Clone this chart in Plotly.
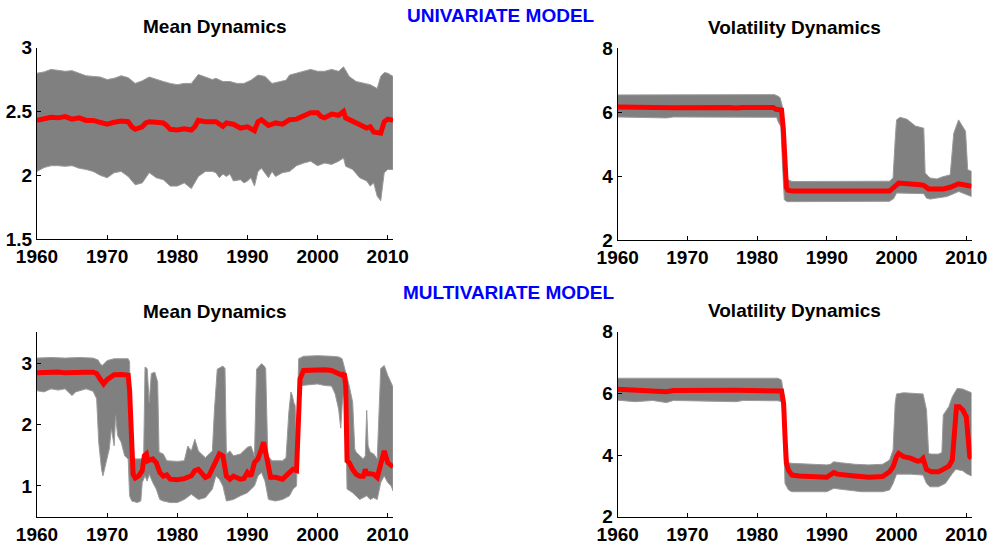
import plotly.graph_objects as go

# ---------------- Univariate model: mean dynamics ----------------
uni_mean_mid_t = [1960, 1961, 1962, 1963, 1964, 1965, 1966, 1967, 1968, 1969, 1970, 1971, 1972, 1973,
                  1973.5, 1974, 1975, 1975.5, 1976, 1977, 1978, 1978.5, 1979, 1980, 1981, 1982, 1982.5,
                  1983, 1984, 1985, 1985.5, 1986.5, 1987, 1988, 1989, 1990, 1991, 1991.5, 1992, 1993,
                  1994, 1995, 1996, 1997, 1998, 1999, 2000, 2000.5, 2001, 2002, 2003, 2003.7, 2004,
                  2005, 2006, 2007, 2007.5, 2008, 2009, 2009.5, 2010, 2010.75]
uni_mean_mid_v = [2.43, 2.44, 2.455, 2.45, 2.46, 2.44, 2.45, 2.43, 2.43, 2.415, 2.40, 2.415, 2.425, 2.42,
                  2.38, 2.36, 2.38, 2.41, 2.42, 2.415, 2.41, 2.39, 2.36, 2.355, 2.365, 2.355, 2.38,
                  2.43, 2.42, 2.42, 2.42, 2.383, 2.41, 2.40, 2.37, 2.38, 2.35, 2.42, 2.435, 2.39,
                  2.41, 2.40, 2.435, 2.44, 2.46, 2.49, 2.49, 2.46, 2.45, 2.48, 2.47, 2.50, 2.45,
                  2.42, 2.40, 2.37, 2.38, 2.34, 2.33, 2.42, 2.44, 2.43]

uni_mean_hi_t = [1960, 1961, 1962, 1963, 1964, 1965, 1966, 1967, 1968, 1969, 1970, 1971, 1972, 1973,
                 1974, 1975, 1976, 1977, 1978, 1979, 1980, 1981, 1982, 1983, 1984, 1985, 1985.5,
                 1986.5, 1987.5, 1988.5, 1989.5, 1990.5, 1991.5, 1992.5, 1993.5, 1994.5, 1995.5, 1996,
                 1997, 1998, 1999, 2000, 2001, 2002, 2003, 2003.7, 2004.5, 2005.5, 2006.5, 2007.5,
                 2008.5, 2009, 2009.5, 2010, 2010.75]
uni_mean_hi_v = [2.80, 2.81, 2.83, 2.82, 2.815, 2.82, 2.80, 2.78, 2.775, 2.77, 2.75, 2.76, 2.78, 2.765,
                 2.72, 2.74, 2.77, 2.75, 2.735, 2.72, 2.71, 2.72, 2.72, 2.79, 2.77, 2.75, 2.76,
                 2.735, 2.735, 2.72, 2.72, 2.745, 2.785, 2.775, 2.72, 2.735, 2.745, 2.785,
                 2.80, 2.81, 2.83, 2.815, 2.815, 2.83, 2.815, 2.85, 2.775, 2.735, 2.72, 2.71,
                 2.68, 2.775, 2.805, 2.80, 2.775]

uni_mean_lo_t = [1960, 1961, 1962, 1963, 1964, 1965, 1966, 1967, 1968, 1969, 1970, 1971, 1972, 1973,
                 1974, 1975, 1976, 1977, 1978, 1979, 1980, 1981, 1982, 1983, 1984, 1985, 1985.5, 1986,
                 1986.5, 1987, 1987.5, 1988, 1989, 1989.5, 1990, 1990.5, 1991, 1991.5, 1992, 1993,
                 1993.5, 1994, 1995, 1996, 1997, 1998, 1999, 2000, 2001, 2002, 2003, 2003.7, 2004,
                 2005, 2006, 2007, 2007.5, 2008, 2008.5, 2009, 2009.5, 2010, 2010.75]
uni_mean_lo_v = [2.03, 2.06, 2.075, 2.075, 2.07, 2.075, 2.055, 2.045, 2.03, 2.00, 1.98, 2.02, 2.03, 1.99,
                 1.925, 1.94, 2.02, 1.98, 1.965, 1.915, 1.915, 1.94, 1.895, 1.99, 2.03, 2.03, 2.02, 1.98,
                 2.01, 1.99, 2.01, 1.955, 1.965, 1.94, 1.955, 1.98, 1.915, 2.03, 2.055, 1.98,
                 2.03, 1.99, 2.02, 2.03, 2.075, 2.095, 2.11, 2.075, 2.095, 2.085, 2.11, 2.135, 2.07,
                 2.045, 1.98, 1.955, 1.915, 1.94, 1.835, 1.80, 2.02, 2.045, 2.045]

# ---------------- Univariate model: volatility dynamics ----------------
uni_vol_mid_t = [1960, 1964, 1967, 1968, 1976, 1977, 1978, 1982.3, 1982.7, 1983.5, 1983.75, 1984.0,
                 1984.2, 1984.4, 1985, 1999, 1999.6, 2000.3, 2003.4, 2003.9, 2004.6, 2006.7, 2007.7,
                 2008.9, 2010.75]
uni_vol_mid_v = [6.16, 6.15, 6.12, 6.14, 6.15, 6.13, 6.15, 6.15, 6.09, 6.07, 5.5, 4.4,
                 3.65, 3.56, 3.53, 3.53, 3.66, 3.78, 3.73, 3.71, 3.60, 3.60, 3.65,
                 3.76, 3.68]

uni_vol_hi_t = [1960, 1982.5, 1983.0, 1983.3, 1983.6, 1984.0, 1984.3, 1985, 1999, 1999.5, 1999.8,
                2000, 2000.5, 2001.5, 2002.7, 2003.9, 2004.1, 2004.8, 2005.8, 2006.5, 2007.7, 2008.2,
                2008.9, 2009.9, 2010.2, 2010.75]
uni_vol_hi_v = [6.54, 6.55, 6.5, 6.45, 6.2, 4.5, 3.9, 3.83, 3.84, 3.95, 5.14,
                5.76, 5.84, 5.78, 5.57, 5.5, 4.1, 3.94, 3.91, 3.97, 4.04, 5.34,
                5.76, 5.4, 4.2, 4.15]

uni_vol_lo_t = [1960, 1967, 1968, 1982.8, 1983.0, 1983.4, 1983.7, 1983.9, 1984.3, 1999, 1999.6, 2000,
                2003.9, 2004.3, 2004.8, 2007.2, 2008.2, 2008.9, 2010.75]
uni_vol_lo_v = [5.85, 5.82, 5.85, 5.84, 5.71, 5.55, 4.1, 3.26, 3.2, 3.21, 3.3, 3.47,
                3.45, 3.31, 3.28, 3.36, 3.45, 3.52, 3.36]

# ---------------- Multivariate model: mean dynamics ----------------
multi_mean_mid_t = [1960, 1961, 1962, 1963, 1964, 1965, 1966, 1967, 1968, 1968.5, 1969, 1969.5, 1970,
                    1970.5, 1971, 1972, 1973, 1973.2, 1973.5, 1973.7, 1974, 1974.5, 1975, 1975.3,
                    1975.6, 1975.8, 1976.5, 1977, 1977.5, 1978, 1978.5, 1979, 1980, 1981, 1982,
                    1982.5, 1983, 1983.5, 1984, 1984.5, 1985, 1985.5, 1986, 1986.5, 1987, 1987.5,
                    1988, 1989, 1989.5, 1990, 1990.5, 1991, 1991.5, 1992, 1992.3, 1992.7, 1993,
                    1993.3, 1994, 1995, 1996, 1996.5, 1997, 1997.2, 1997.5, 1998, 1999, 2000, 2001,
                    2002, 2003, 2003.5, 2003.8, 2004, 2004.2, 2004.5, 2005, 2005.5, 2006, 2006.5,
                    2006.8, 2007, 2007.5, 2008, 2008.5, 2009, 2009.5, 2010, 2010.5, 2010.75]
multi_mean_mid_v = [2.84, 2.845, 2.86, 2.855, 2.84, 2.85, 2.86, 2.85, 2.85, 2.83, 2.74, 2.66, 2.73,
                    2.78, 2.81, 2.815, 2.80, 2.55, 1.57, 1.19, 1.13, 1.165, 1.25, 1.49,
                    1.52, 1.41, 1.44, 1.38, 1.22, 1.16, 1.18, 1.11, 1.10, 1.12, 1.165,
                    1.25, 1.27, 1.19, 1.14, 1.165, 1.27, 1.38, 1.52, 1.49, 1.16, 1.11,
                    1.16, 1.11, 1.12, 1.22, 1.16, 1.38, 1.44, 1.60, 1.71, 1.49, 1.27,
                    1.14, 1.14, 1.11, 1.22, 1.27, 1.25, 1.82, 2.74, 2.88, 2.89, 2.90, 2.89,
                    2.88, 2.83, 2.80, 2.83, 2.64, 1.41, 1.38, 1.27, 1.19, 1.16, 1.16,
                    1.27, 1.20, 1.20, 1.19, 1.14, 1.38, 1.57, 1.38, 1.33, 1.31]

multi_mean_hi_t = [1960, 1962, 1964, 1966, 1968, 1968.7, 1969, 1969.3, 1970, 1971, 1972, 1973, 1973.2,
                   1973.4, 1975.2, 1975.4, 1975.7, 1976, 1976.3, 1976.8, 1977.2, 1977.4, 1978, 1978.5,
                   1980, 1981, 1981.5, 1982, 1982.5, 1983, 1984, 1985, 1985.3, 1985.7, 1986.5, 1986.8,
                   1987, 1987.5, 1988, 1989, 1990, 1990.5, 1991, 1991.3, 1992, 1992.4, 1992.6, 1992.9,
                   1993.5, 1995, 1995.5, 1995.9, 1996.2, 1996.4, 1996.6, 1996.8, 1997, 1997.3, 1998,
                   2000, 2002, 2003, 2003.5, 2004, 2004.5, 2005, 2005.3, 2005.5, 2006, 2006.5, 2006.8,
                   2007, 2007.2, 2007.5, 2008, 2008.5, 2009, 2009.5, 2010, 2010.5, 2010.75]
multi_mean_hi_v = [3.08, 3.09, 3.08, 3.09, 3.08, 3.05, 2.99, 2.96, 3.04, 3.07, 3.07, 3.07, 3.02,
                   1.44, 1.44, 2.935, 2.91, 2.36, 2.83, 2.85, 2.69, 1.55, 1.52, 1.41,
                   1.40, 1.41, 1.65, 1.57, 1.76, 1.57, 1.46, 1.57, 2.25, 2.90, 2.95, 2.91,
                   1.52, 1.57, 1.49, 1.52, 1.63, 1.65, 1.49, 2.90, 2.99, 2.95, 2.91, 1.49,
                   1.41, 1.41, 1.46, 2.20, 2.53, 2.47, 2.36, 2.31, 1.655, 3.07, 3.11,
                   3.12, 3.11, 3.10, 3.07, 2.85, 2.635, 2.36, 1.60, 1.55, 1.49, 1.44, 1.49,
                   2.23, 1.655, 1.55, 1.52, 1.44, 2.91, 2.96, 2.80, 2.69, 2.61]

multi_mean_lo_t = [1960, 1961, 1962, 1963, 1964, 1964.5, 1965, 1965.5, 1966, 1967, 1968, 1968.5, 1968.8,
                   1969.2, 1969.4, 1969.8, 1970.3, 1970.6, 1971, 1971.2, 1971.5, 1972, 1972.5, 1973,
                   1973.2, 1973.5, 1974.3, 1974.8, 1975, 1975.4, 1975.7, 1976, 1976.5, 1977, 1977.5,
                   1978, 1979, 1980, 1981, 1982, 1983, 1984, 1985, 1985.5, 1986, 1986.5, 1987, 1988,
                   1989, 1990, 1990.5, 1991, 1991.5, 1992, 1992.5, 1993, 1994, 1995, 1996, 1996.5,
                   1997, 1997.3, 1997.7, 1998, 2000, 2001, 2002, 2002.5, 2003, 2003.3, 2003.5, 2003.8,
                   2004, 2004.2, 2005, 2006, 2007, 2007.5, 2008, 2008.5, 2009, 2009.5, 2010, 2010.5,
                   2010.75]
multi_mean_lo_v = [2.55, 2.53, 2.58, 2.56, 2.58, 2.53, 2.47, 2.53, 2.54, 2.58, 2.54, 2.42, 1.71,
                   1.27, 1.165, 1.38, 1.60, 1.93, 1.655, 2.145, 1.82, 1.71, 1.49, 1.44,
                   0.84, 0.755, 0.73, 0.755, 1.055, 1.165, 1.08, 1.19, 1.055, 0.95, 0.78,
                   0.755, 0.73, 0.73, 0.78, 0.865, 0.78, 0.81, 0.95, 1.165, 1.11, 1.0, 0.755, 0.78,
                   0.84, 0.89, 0.95, 1.0, 1.165, 1.22, 1.08, 0.78, 0.755, 0.78, 0.84, 0.95,
                   1.0, 2.36, 2.635, 2.645, 2.66, 2.635, 2.625, 2.50, 2.25, 1.94, 2.31, 2.635,
                   2.145, 0.95, 0.89, 0.78, 0.84, 0.78, 0.81, 0.78, 1.055, 1.165, 1.055, 1.0,
                   0.92]

# ---------------- Multivariate model: volatility dynamics ----------------
multi_vol_mid_t = [1960, 1963, 1965, 1967, 1968, 1970, 1977, 1983.5, 1983.8, 1984, 1984.2, 1984.5,
                   1985, 1986, 1988, 1990, 1990.5, 1991, 1991.5, 1992, 1994, 1996, 1998, 1999, 1999.5,
                   2000, 2000.3, 2001, 2002, 2003, 2003.5, 2003.8, 2004, 2004.3, 2005, 2006, 2006.5,
                   2007, 2007.5, 2008, 2008.3, 2008.6, 2009, 2009.5, 2010, 2010.3, 2010.5, 2010.75]
multi_vol_mid_v = [6.13, 6.09, 6.10, 6.055, 6.09, 6.10, 6.10, 6.08, 5.68, 4.6, 3.73, 3.51,
                   3.35, 3.32, 3.29, 3.28, 3.36, 3.43, 3.38, 3.36, 3.32, 3.28, 3.30, 3.46, 3.62,
                   3.95, 4.05, 3.95, 3.90, 3.80, 3.82, 3.89, 3.68, 3.53, 3.46, 3.46, 3.51,
                   3.57, 3.64, 3.84, 4.70, 5.57, 5.57, 5.46, 5.24, 4.6, 3.95, 3.89]

multi_vol_hi_t = [1960, 1970, 1983, 1983.5, 1984, 1984.2, 1984.5, 1985, 1990, 1990.5, 1991, 1992,
                  1994, 1996, 1998, 1999, 1999.5, 1999.8, 2000, 2001, 2002, 2003, 2003.8, 2004.3,
                  2004.6, 2005, 2006, 2006.5, 2006.7, 2007.5, 2008, 2008.7, 2009.5, 2010, 2010.75]
multi_vol_hi_v = [6.49, 6.49, 6.49, 6.43, 5.68, 4.05, 3.75, 3.73, 3.68, 3.70, 3.78, 3.75,
                  3.70, 3.68, 3.70, 3.84, 4.16, 5.68, 5.98, 6.02, 6.00, 5.98, 5.98, 5.46,
                  4.05, 4.03, 4.03, 4.08, 5.30, 5.57, 5.89, 6.16, 6.14, 6.09, 6.02]

multi_vol_lo_t = [1960, 1962.5, 1965, 1967, 1968, 1977, 1978, 1983, 1983.5, 1983.7, 1984, 1984.5, 1985,
                  1990, 1991, 1992, 1995, 1998, 1999, 1999.5, 2000, 2002, 2003.8, 2004.3, 2004.8,
                  2006, 2007, 2008, 2008.5, 2009.5, 2010, 2010.75]
multi_vol_lo_v = [5.78, 5.73, 5.77, 5.70, 5.77, 5.73, 5.77, 5.76, 5.73, 5.35, 3.08, 2.865, 2.81,
                  2.81, 2.92, 2.89, 2.81, 2.81, 2.865, 3.08, 3.38, 3.38, 3.35, 3.08, 2.97,
                  2.97, 3.08, 3.40, 3.535, 3.49, 3.40, 3.32]

# ---------------- Axis ticks ----------------
year_ticks = [1960, 1970, 1980, 1990, 2000, 2010]
uni_mean_yticks = [1.5, 2, 2.5, 3]
vol_yticks = [2, 4, 6, 8]
multi_mean_yticks = [1, 2, 3]

W, H = 989, 544
FONT = "Liberation Sans, Arial, Helvetica, sans-serif"

panels = [
    # (axis suffix, x px range, y px range (top, bottom), y range, y ticks, title, data)
    ("", (37, 393), (47.7, 239.0), [1.5, 3], uni_mean_yticks, "Mean Dynamics",
     (uni_mean_hi_t, uni_mean_hi_v, uni_mean_lo_t, uni_mean_lo_v, uni_mean_mid_t, uni_mean_mid_v)),
    ("2", (617.7, 971.5), (48.3, 240.0), [2, 8], vol_yticks, "Volatility Dynamics",
     (uni_vol_hi_t, uni_vol_hi_v, uni_vol_lo_t, uni_vol_lo_v, uni_vol_mid_t, uni_vol_mid_v)),
    ("3", (37, 393), (332.3, 516.7), [0.5, 3.5], multi_mean_yticks, "Mean Dynamics",
     (multi_mean_hi_t, multi_mean_hi_v, multi_mean_lo_t, multi_mean_lo_v, multi_mean_mid_t, multi_mean_mid_v)),
    ("4", (617.7, 971.5), (331.7, 516.7), [2, 8], vol_yticks, "Volatility Dynamics",
     (multi_vol_hi_t, multi_vol_hi_v, multi_vol_lo_t, multi_vol_lo_v, multi_vol_mid_t, multi_vol_mid_v)),
]

fig = go.Figure()
layout = dict(
    width=W, height=H, margin=dict(l=0, r=0, t=0, b=0, pad=0), autosize=False,
    paper_bgcolor="white", plot_bgcolor="white", showlegend=False,
    annotations=[],
)

tick_font = dict(family=FONT, size=19, color="black", weight="bold")

for suffix, (x0, x1), (ytop, ybot), yrange, yticks, title, data in panels:
    hi_t, hi_v, lo_t, lo_v, mid_t, mid_v = data
    xa = "x" + suffix
    ya = "y" + suffix
    # credible band as a closed polygon
    fig.add_trace(go.Scatter(
        x=hi_t + lo_t[::-1], y=hi_v + lo_v[::-1],
        fill="toself", fillcolor="#808080", mode="lines",
        line=dict(color="#9a9a9a", width=1), hoverinfo="skip",
        xaxis=xa, yaxis=ya))
    # posterior median
    fig.add_trace(go.Scatter(
        x=mid_t, y=mid_v, mode="lines",
        line=dict(color="#ff0000", width=5),
        xaxis=xa, yaxis=ya))

    common = dict(showline=True, linecolor="black", linewidth=1, ticks="inside",
                  ticklen=4, tickwidth=1, tickcolor="black", showgrid=False,
                  zeroline=False, tickfont=tick_font, automargin=False)
    layout["xaxis" + suffix] = dict(
        domain=[x0 / W, x1 / W], range=[1960, 2010.75], tickvals=year_ticks,
        ticktext=[str(y) for y in year_ticks], anchor=ya, **common)
    layout["yaxis" + suffix] = dict(
        domain=[1 - ybot / H, 1 - ytop / H], range=yrange, tickvals=yticks,
        ticktext=[("%g" % v) for v in yticks], anchor=xa, **common)

    layout["annotations"].append(dict(
        text=title, x=(x0 + x1) / 2 / W, y=1 - (ytop - 21) / H, xref="paper", yref="paper",
        xanchor="center", yanchor="middle", showarrow=False,
        font=dict(family=FONT, size=19, color="black", weight="bold")))

for text, cx, cy in [("UNIVARIATE MODEL", 500.5, 15), ("MULTIVARIATE MODEL", 508.5, 292)]:
    layout["annotations"].append(dict(
        text=text, x=cx / W, y=1 - cy / H, xref="paper", yref="paper",
        xanchor="center", yanchor="middle", showarrow=False,
        font=dict(family=FONT, size=19, color="#0000ff", weight="bold")))

fig.update_layout(**layout)
fig.write_html("out.html")
